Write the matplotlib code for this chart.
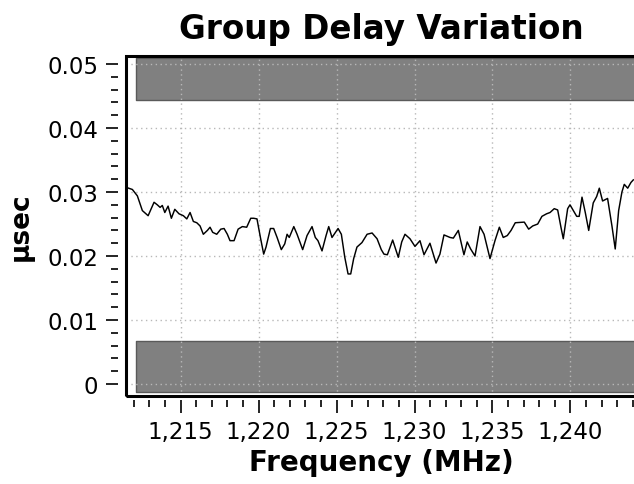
import numpy as np
import matplotlib
matplotlib.use("Agg")
import matplotlib.pyplot as plt
from matplotlib.ticker import MultipleLocator, FuncFormatter
from matplotlib.patches import Rectangle

# group delay trace
freq_mhz = [1211.55, 1211.91, 1212.23, 1212.55, 1212.92, 1213.30, 1213.51, 1213.69,
            1213.83, 1213.99, 1214.20, 1214.41, 1214.63, 1214.90, 1215.18, 1215.40,
            1215.61, 1215.82, 1216.04, 1216.25, 1216.46, 1216.72, 1216.89, 1217.06,
            1217.32, 1217.58, 1217.79, 1218.00, 1218.17, 1218.43, 1218.69, 1218.96,
            1219.24, 1219.50, 1219.69, 1219.90, 1220.12, 1220.33, 1220.48, 1220.76,
            1220.97, 1221.19, 1221.46, 1221.68, 1221.83, 1221.97, 1222.26, 1222.47,
            1222.83, 1223.11, 1223.43, 1223.64, 1223.81, 1224.07, 1224.33, 1224.50,
            1224.71, 1225.10, 1225.31, 1225.53, 1225.74, 1225.91, 1226.10, 1226.31,
            1226.63, 1226.96, 1227.28, 1227.60, 1227.87, 1228.04, 1228.26, 1228.60,
            1228.96, 1229.18, 1229.39, 1229.71, 1230.03, 1230.35, 1230.61, 1230.99,
            1231.38, 1231.63, 1231.89, 1232.28, 1232.49, 1232.81, 1233.17, 1233.38,
            1233.60, 1233.88, 1234.20, 1234.46, 1234.84, 1235.16, 1235.44, 1235.69,
            1235.95, 1236.19, 1236.46, 1237.04, 1237.32, 1237.58, 1237.90, 1238.17,
            1238.47, 1238.69, 1238.96, 1239.18, 1239.39, 1239.54, 1239.82, 1239.97,
            1240.40, 1240.56, 1240.74, 1240.95, 1241.17, 1241.46, 1241.68, 1241.85,
            1242.06, 1242.38, 1242.66, 1242.87, 1243.09, 1243.30, 1243.45, 1243.67,
            1243.88, 1244.03]
delay_usec = [0.0307, 0.0304, 0.0294, 0.0271, 0.0263, 0.0284, 0.0280, 0.0276,
              0.0279, 0.0268, 0.0278, 0.0259, 0.0273, 0.0266, 0.0263, 0.0258,
              0.0268, 0.0254, 0.0252, 0.0247, 0.0234, 0.0240, 0.0245, 0.0237,
              0.0234, 0.0242, 0.0243, 0.0234, 0.0224, 0.0224, 0.0242, 0.0246,
              0.0245, 0.0259, 0.0259, 0.0258, 0.0229, 0.0203, 0.0214, 0.0243,
              0.0243, 0.0229, 0.0210, 0.0219, 0.0234, 0.0229, 0.0246, 0.0234,
              0.0210, 0.0232, 0.0246, 0.0229, 0.0224, 0.0208, 0.0232, 0.0246,
              0.0229, 0.0243, 0.0234, 0.0198, 0.0172, 0.0172, 0.0196, 0.0214,
              0.0221, 0.0234, 0.0236, 0.0227, 0.0210, 0.0203, 0.0202, 0.0225,
              0.0198, 0.0222, 0.0234, 0.0227, 0.0215, 0.0224, 0.0202, 0.0220,
              0.0189, 0.0203, 0.0233, 0.0229, 0.0228, 0.0240, 0.0202, 0.0222,
              0.0211, 0.0200, 0.0246, 0.0234, 0.0196, 0.0224, 0.0245, 0.0229,
              0.0232, 0.0240, 0.0252, 0.0253, 0.0242, 0.0247, 0.0250, 0.0262,
              0.0266, 0.0268, 0.0274, 0.0272, 0.0245, 0.0227, 0.0274, 0.0280,
              0.0262, 0.0262, 0.0292, 0.0268, 0.0240, 0.0283, 0.0293, 0.0306,
              0.0286, 0.0290, 0.0247, 0.0211, 0.0271, 0.0300, 0.0312, 0.0306,
              0.0315, 0.0319]

# limit mask
mask_freq = [1212.15, 1245.0]
upper_mask = [0.0444, 0.0509]
lower_mask = [-0.00125, 0.0067]

fig = plt.figure(figsize=(6.34, 4.85), dpi=100)
ax = fig.add_axes([0.1987, 0.1814, 0.8044, 0.7010])

ax.fill_between(mask_freq, upper_mask[0], upper_mask[1], facecolor='#808080',
                edgecolor='#5a5a5a', linewidth=1, zorder=1)
ax.fill_between(mask_freq, lower_mask[0], lower_mask[1], facecolor='#808080',
                edgecolor='#5a5a5a', linewidth=1, zorder=1)

ax.grid(True, which='major', linestyle=(0, (1, 2.5)), color='#b8b8b8', linewidth=1, zorder=2)
ax.set_axisbelow(False)
ax.plot(freq_mhz, delay_usec, color='black', linewidth=1.05, zorder=3)

ax.set_xlim(1211.5, 1244.2)
ax.set_ylim(-0.001875, 0.05125)

ax.xaxis.set_major_locator(MultipleLocator(5))
ax.xaxis.set_minor_locator(MultipleLocator(1))
ax.yaxis.set_major_locator(MultipleLocator(0.01))
ax.yaxis.set_minor_locator(MultipleLocator(0.002))
ax.xaxis.set_major_formatter(FuncFormatter(lambda v, p: f"{v:,.0f}"))
ax.yaxis.set_major_formatter(FuncFormatter(lambda v, p: "0" if abs(v) < 1e-9 else f"{v:.2f}"))

# ticks sit a little away from the frame, so draw the frame by hand
for s in ax.spines.values():
    s.set_visible(False)
ax.spines['left'].set_position(('outward', 6))
ax.spines['bottom'].set_position(('outward', 3))
ax.add_patch(Rectangle((0, 0), 1, 1, transform=ax.transAxes, fill=False,
                       edgecolor='black', linewidth=2.2, clip_on=False, zorder=5))

ax.tick_params(axis='both', which='major', direction='out', length=9, width=1.2,
               labelsize=16.5, color='black')
ax.tick_params(axis='both', which='minor', direction='out', length=5, width=1.2, color='black')
ax.tick_params(axis='x', which='major', pad=5)
ax.tick_params(axis='y', which='major', pad=5)

ax.set_title("Group Delay Variation", fontsize=23.5, fontweight='bold', pad=13)
ax.set_xlabel("Frequency (MHz)", fontsize=20, fontweight='bold', labelpad=4)
ax.set_ylabel("µsec", fontsize=19, fontweight='bold', labelpad=10)

fig.savefig("out.png", dpi=100)
